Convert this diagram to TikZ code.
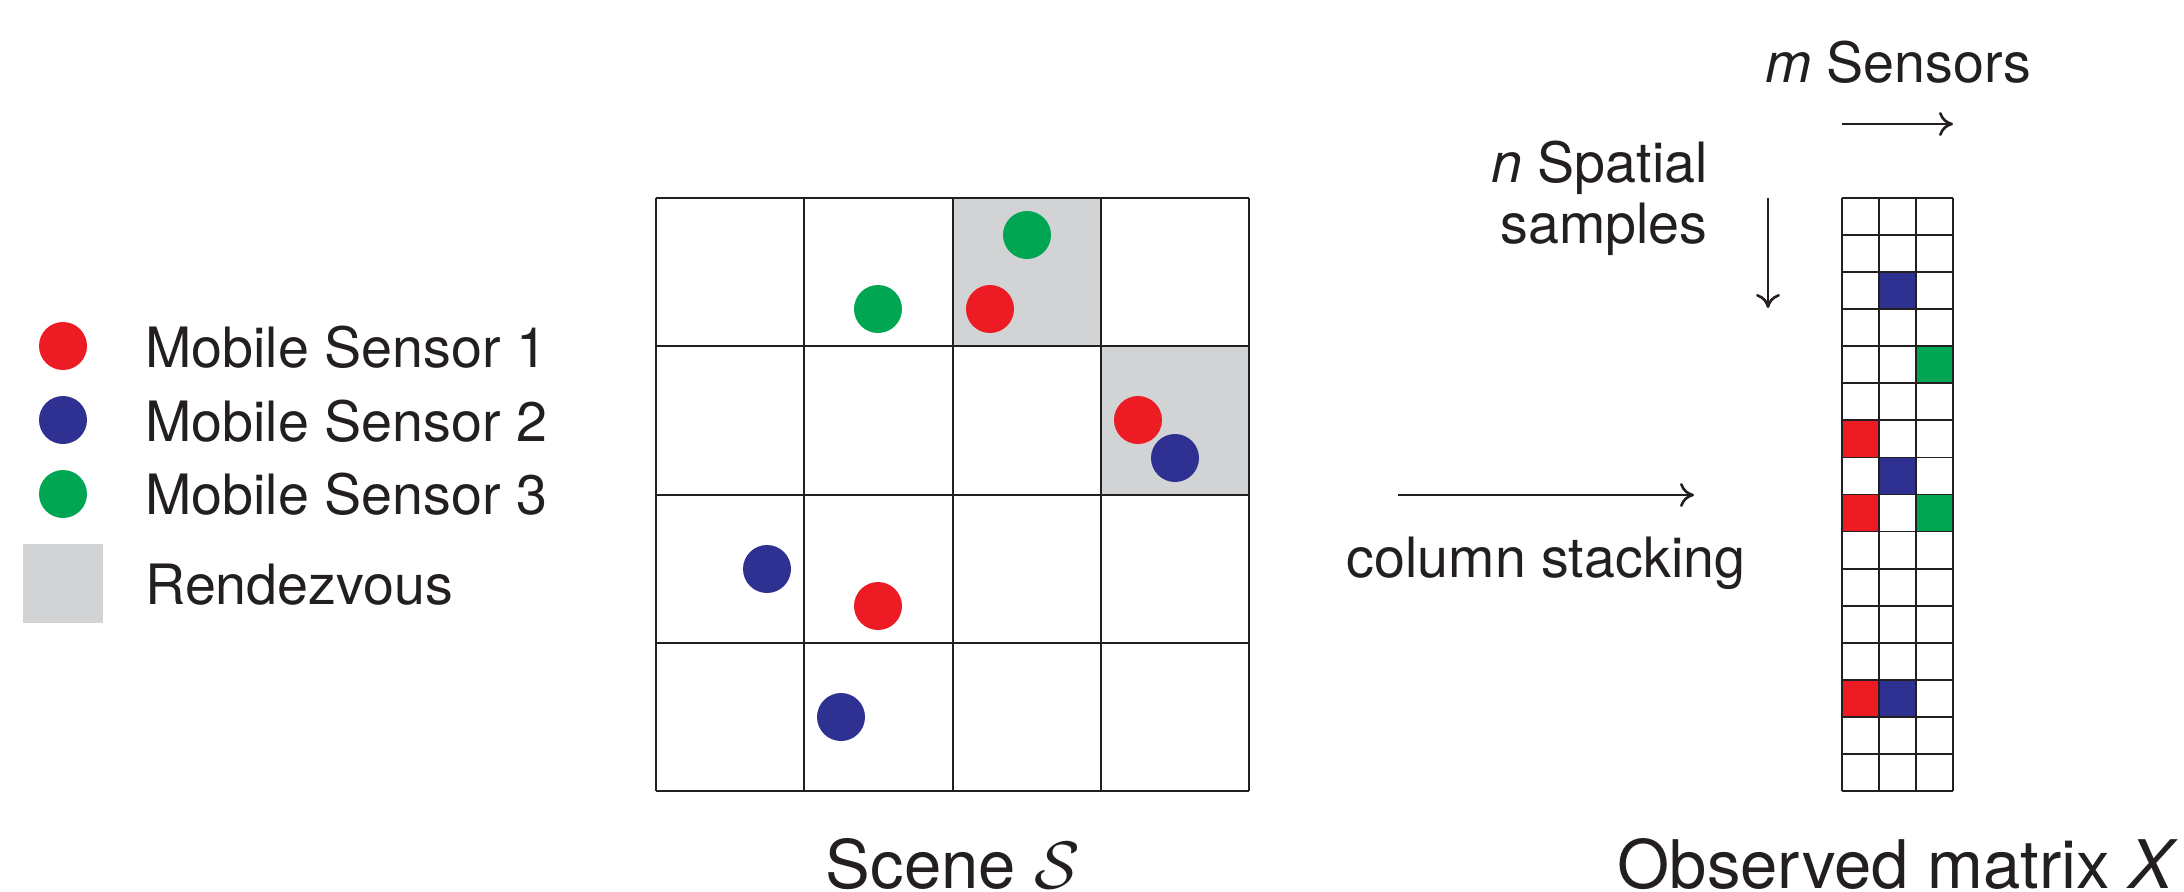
\RequirePackage{fix-cm}
\documentclass[tikz,border=0pt]{standalone}
\usepackage{fontspec}
\setmainfont{TeX Gyre Heros}
\usetikzlibrary{arrows.meta}
\definecolor{sred}{HTML}{ED1C24}
\definecolor{sblue}{HTML}{2E3192}
\definecolor{sgreen}{HTML}{00A651}
\definecolor{sgray}{HTML}{D1D3D4}
\definecolor{ink}{HTML}{231F20}
\begin{document}
\begin{tikzpicture}[x=0.5pt,y=-0.5pt,
  dot/.style={circle,inner sep=0pt,minimum size=24pt,draw=none},
  legdot/.style={circle,inner sep=0pt,minimum size=24pt,draw=none},
  lbl/.style={inner sep=0pt,text=ink,font=\fontsize{27.8}{30}\selectfont},
  bigcap/.style={inner sep=0pt,text=ink,font=\fontsize{33.5}{36}\selectfont},
  gridline/.style={draw=ink,line width=1pt},
  mline/.style={draw=ink,line width=0.9pt},
  arr/.style={draw=ink,line width=1.3pt,-{To[length=7pt,width=12pt]}}]
\useasboundingbox (0,0) rectangle (2184,891);

% ---------- legend ----------
\node[legdot,fill=sred] (l1) at (63,346) {};
\node[legdot,fill=sblue] (l2) at (63,420) {};
\node[legdot,fill=sgreen] (l3) at (63,494) {};
\fill[sgray] (23,544) rectangle (103,623);
\node[lbl,anchor=base west] (t1) at (145,367) {Mobile Sensor 1};
\node[lbl,anchor=base west] (t2) at (145,441) {Mobile Sensor 2};
\node[lbl,anchor=base west] (t3) at (145,514) {Mobile Sensor 3};
\node[lbl,anchor=base west] (t4) at (145,604) {Rendezvous};

% ---------- scene grid ----------
\fill[sgray] (952.5,198) rectangle (1100.75,346.25);
\fill[sgray] (1100.75,346.25) rectangle (1249,494.5);
\foreach \i in {0,...,4} {
  \draw[gridline] ({656+148.25*\i},198) -- ({656+148.25*\i},791);
  \draw[gridline] (656,{198+148.25*\i}) -- (1249,{198+148.25*\i});
}
\node[dot,fill=sgreen] (g1) at (1027,235) {};
\node[dot,fill=sgreen] (g2) at (878,309) {};
\node[dot,fill=sred]   (r1) at (990,309) {};
\node[dot,fill=sred]   (r2) at (1138,420) {};
\node[dot,fill=sblue]  (b1) at (1175,458) {};
\node[dot,fill=sblue]  (b2) at (767,569) {};
\node[dot,fill=sred]   (r3) at (878,606) {};
\node[dot,fill=sblue]  (b3) at (841,717) {};
\node[bigcap,anchor=base] (scene) at (953,888) {Scene $\mathcal{S}$};

% ---------- column stacking ----------
\coordinate (cs1) at (1398,495);
\coordinate (cs2) at (1694,495);
\draw[arr] (cs1) -- (cs2);
\node[lbl,anchor=base] (cst) at (1546,577) {column stacking};

% ---------- matrix ----------
\def\mc#1#2#3{\fill[#3] ({1842+37*(#2-1)},{198+37.0625*(#1-1)}) rectangle ({1842+37*#2},{198+37.0625*#1});}
\mc{3}{2}{sblue}
\mc{5}{3}{sgreen}
\mc{7}{1}{sred}
\mc{8}{2}{sblue}
\mc{9}{1}{sred}
\mc{9}{3}{sgreen}
\mc{14}{1}{sred}
\mc{14}{2}{sblue}
\foreach \j in {0,...,3} {
  \draw[mline] ({1842+37*\j},198) -- ({1842+37*\j},791);
}
\foreach \i in {0,...,16} {
  \draw[mline] (1842,{198+37.0625*\i}) -- (1953,{198+37.0625*\i});
}
\node[bigcap,anchor=base] (obs) at (1898,888) {Observed matrix \textit{X}};

% ---------- matrix labels ----------
\node[lbl,anchor=base] (msens) at (1898,82) {\textit{m} Sensors};
\coordinate (ms1) at (1842,124);
\coordinate (ms2) at (1953,124);
\draw[arr] (ms1) -- (ms2);

\node[lbl,anchor=base east] (nsp) at (1708,182) {\textit{n} Spatial};
\node[lbl,anchor=base east] (nsa) at (1708,243) {samples};
\coordinate (ns1) at (1768,198);
\coordinate (ns2) at (1768,308);
\draw[arr] (ns1) -- (ns2);
\end{tikzpicture}
\end{document}
